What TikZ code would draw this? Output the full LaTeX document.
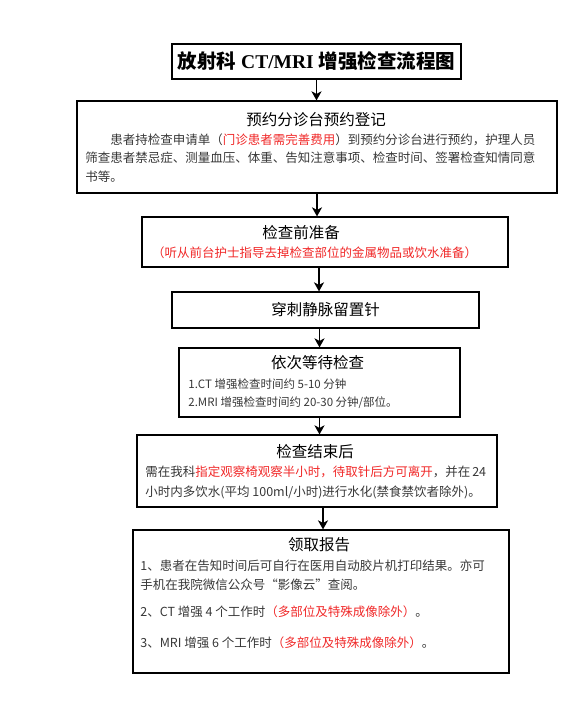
\documentclass[tikz,border=0pt]{standalone}
\usepackage{fontspec}
\setmainfont{Liberation Serif}
\newfontfamily\cjk{Noto Sans CJK SC}
\usetikzlibrary{arrows.meta}
\usetikzlibrary{positioning}
\definecolor{notered}{RGB}{240, 40, 40}
\definecolor{bodygray}{RGB}{55, 55, 55}
\XeTeXlinebreaklocale "zh"
\XeTeXlinebreakskip=0pt plus 3pt

\begin{document}
\begin{tikzpicture}[x=1pt, y=-1pt, thick,
        box/.style={draw, line width=1.2pt, inner sep=0pt},
        flow/.style={-{Stealth[length=9pt, width=10pt, inset=2.5pt]}, line width=1.8pt},
        boxhead/.style={font=\cjk\fontsize{15.5}{18}\selectfont},
        txtline/.style={anchor=west, inner sep=0pt, text=bodygray, font=\cjk\fontsize{12.5}{15}\selectfont}]
    \useasboundingbox (0,0) rectangle (584,702);

    \node[box, minimum width=289pt, minimum height=35pt, font=\fontsize{19.5}{22}\selectfont\bfseries] (title) at (316.5,61.5) {{\cjk 放射科} CT/MRI {\cjk 增强检查流程图}};

    \node[box, minimum width=480pt, minimum height=92pt] (reg) at (317,147) {};
    \node[boxhead] (reg-head) at (316,120) {预约分诊台预约登记};
    \node[txtline] (reg-l1) at (110,140) {\makebox[433pt][s]{患者持检查申请单（\textcolor{notered}{门诊患者需完善费用}）到预约分诊台进行预约，护理人员}};
    \node[txtline] (reg-l2) at (85,158) {\makebox[458pt][s]{筛查患者禁忌症、测量血压、体重、告知注意事项、检查时间、签署检查知情同意}};
    \node[txtline] (reg-l3) at (85,177) {书等。};

    \node[box, minimum width=366pt, minimum height=50pt] (prep) at (325,242) {};
    \node[boxhead] (prep-head) at (301,233) {检查前准备};
    \node[txtline, anchor=center, text=notered] (prep-note) at (314.5,253) {（听从前台护士指导去掉检查部位的金属物品或饮水准备）};

    \node[box, boxhead, minimum width=307pt, minimum height=36pt] (needle) at (325.5,310) {穿刺静脉留置针};

    \node[box, minimum width=281pt, minimum height=69pt] (wait) at (319.5,382.5) {};
    \node[boxhead] (wait-head) at (317.5,363) {依次等待检查};
    \node[txtline, font=\cjk\fontsize{11.5}{13}\selectfont] (wait-l1) at (188,384) {1.CT 增强检查时间约 5-10 分钟};
    \node[txtline, font=\cjk\fontsize{11.5}{13}\selectfont] (wait-l2) at (188,403) {2.MRI 增强检查时间约 20-30 分钟/部位。};

    \node[box, minimum width=360pt, minimum height=72pt] (after) at (317,471) {};
    \node[boxhead] (after-head) at (315,452) {检查结束后};
    \node[txtline] (after-l1) at (145,472) {\makebox[338pt][s]{需在我科\textcolor{notered}{指定观察椅观察半小时，待取针后方可离开}，并在 24}};
    \node[txtline] (after-l2) at (145,492) {小时内多饮水(平均 100ml/小时)进行水化(禁食禁饮者除外)。};

    \node[box, minimum width=376pt, minimum height=143pt] (report) at (321,601.5) {};
    \node[boxhead] (report-head) at (319,545) {领取报告};
    \node[txtline] (report-l1) at (140,566) {\makebox[358pt][s]{1、患者在告知时间后可自行在医用自动胶片机打印结果。亦可}};
    \node[txtline] (report-l2) at (140,585) {手机在我院微信公众号“影像云”查阅。};
    \node[txtline] (report-l3) at (140,612) {2、CT 增强 4 个工作时\textcolor{notered}{（多部位及特殊成像除外）}。};
    \node[txtline] (report-l4) at (140,643) {3、MRI 增强 6 个工作时\textcolor{notered}{（多部位及特殊成像除外）}。};

    \draw[flow] (title.south) -- (title.south |- reg.north);
    \draw[flow] (reg.south) -- (reg.south |- prep.north);
    \draw[flow] ([xshift=-6pt]prep.south) -- ([xshift=-6pt]prep.south |- needle.north);
    \draw[flow] ([xshift=-6pt]needle.south) -- ([xshift=-6pt]needle.south |- wait.north);
    \draw[flow] (wait.south) -- (wait.south |- after.north);
    \draw[flow] ([xshift=6pt]after.south) -- ([xshift=6pt]after.south |- report.north);
\end{tikzpicture}
\end{document}
